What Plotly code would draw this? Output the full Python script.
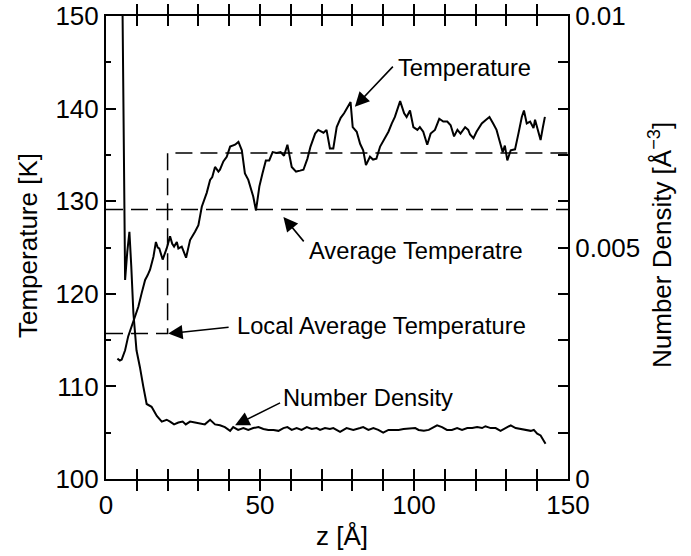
import plotly.graph_objects as go

# Temperature profile (z [Å], T [K])
temp_z = [3.7, 4.5, 5.1, 6.2, 7.2, 8.3, 9.4, 10.5, 11.6, 12.7, 13.5, 14.3, 15.4, 16.2, 16.8, 17.3,
          18.4, 19.7, 20.8, 21.5, 22.1, 23.0, 23.5, 24.6, 26.0, 27.3, 28.9, 30.0, 31.1, 32.7, 33.8,
          34.5, 35.4, 36.5, 37.0, 38.1, 39.2, 40.3, 41.9, 43.0, 44.1, 45.1, 46.2, 47.3, 47.8, 48.7,
          49.8, 50.8, 51.9, 53.0, 54.1, 55.4, 56.7, 57.8, 58.9, 60.3, 61.7, 63.0, 64.1, 65.4, 66.4,
          67.9, 68.9, 70.6, 71.6, 72.7, 73.8, 74.9, 76.2, 77.3, 78.7, 79.4, 80.1, 81.4, 82.5, 83.5,
          84.4, 85.7, 86.7, 87.8, 89.0, 90.3, 91.7, 92.8, 93.8, 95.5, 96.8, 97.6, 98.7, 99.8, 101.1,
          101.9, 103.0, 104.3, 105.4, 106.8, 108.2, 109.5, 110.8, 111.9, 113.0, 114.1, 115.1, 116.6,
          117.6, 118.2, 119.3, 120.3, 122.0, 123.4, 124.5, 125.7, 126.8, 127.7, 128.8, 129.5, 130.3,
          131.4, 132.8, 133.9, 135.0, 135.7, 136.6, 137.7, 138.8, 139.3, 140.0, 141.1, 141.8, 142.5]
temp_T = [113.0, 112.8, 112.9, 113.9, 115.4, 116.4, 117.5, 118.6, 120.1, 121.5, 122.0, 122.6, 124.0,
          125.6, 125.0, 124.9, 123.7, 124.9, 126.2, 125.4, 125.1, 125.6, 124.9, 125.1, 123.9, 125.8,
          126.7, 127.4, 129.4, 130.9, 132.3, 132.6, 133.7, 133.2, 133.4, 134.3, 134.8, 135.9, 136.1,
          136.4, 135.5, 133.0, 132.3, 130.9, 130.5, 129.0, 131.6, 133.0, 134.4, 134.4, 135.3, 135.2,
          135.3, 134.9, 136.1, 133.7, 133.2, 133.3, 133.4, 134.6, 135.9, 137.3, 137.7, 137.4, 137.7,
          135.7, 135.7, 138.0, 139.0, 139.5, 140.4, 140.7, 138.0, 137.5, 136.2, 135.5, 133.9, 134.8,
          134.5, 134.6, 135.9, 136.6, 137.5, 138.4, 139.1, 140.8, 139.5, 139.1, 139.8, 138.0, 137.7,
          138.0, 137.5, 136.1, 137.3, 137.7, 138.9, 138.6, 138.6, 138.2, 137.0, 137.7, 137.3, 138.0,
          137.7, 137.2, 136.8, 137.5, 138.4, 138.8, 139.1, 138.4, 137.7, 136.6, 135.3, 136.0, 134.4,
          135.5, 135.6, 137.3, 139.1, 139.8, 138.4, 138.6, 137.9, 138.8, 137.9, 136.6, 137.9, 139.1]

# Number density profile (z [Å], n [Å^-3])
dens_z = [5.1, 6.2, 6.9, 7.6, 8.2, 8.9, 9.9, 10.5, 11.0, 12.1, 13.2, 14.8, 16.5, 18.1, 19.7, 20.8,
          22.1, 23.5, 24.9, 25.9, 27.3, 28.9, 30.5, 32.1, 33.8, 35.4, 37.0, 38.6, 40.3, 41.3, 42.9,
          44.6, 46.2, 47.8, 49.5, 51.1, 52.7, 54.4, 56.0, 57.6, 58.9, 60.3, 61.9, 63.5, 65.2, 66.8,
          68.4, 69.5, 71.1, 72.7, 73.8, 75.3, 76.0, 78.1, 80.3, 82.5, 83.5, 85.2, 86.8, 88.4, 90.0,
          91.7, 93.4, 95.0, 96.6, 98.7, 100.4, 101.5, 103.2, 104.8, 106.4, 107.5, 109.1, 110.7,
          112.3, 114.0, 115.6, 117.3, 118.9, 120.5, 122.1, 123.2, 124.9, 126.5, 128.1, 129.7, 131.4,
          133.0, 134.6, 136.2, 137.9, 138.9, 140.0, 141.1, 142.2, 142.7]
dens_n = [0.0120, 0.0043, 0.0049, 0.00534, 0.0046, 0.00358, 0.00278, 0.0026, 0.00242, 0.0020,
          0.00162, 0.00156, 0.00136, 0.00124, 0.00128, 0.00124, 0.00118, 0.00122, 0.00124, 0.00118,
          0.00124, 0.00122, 0.0012, 0.00118, 0.00128, 0.00118, 0.00116, 0.00112, 0.00104, 0.00112,
          0.00106, 0.0011, 0.00106, 0.0011, 0.00112, 0.00108, 0.00106, 0.00106, 0.00104, 0.0011,
          0.00112, 0.00106, 0.0011, 0.00106, 0.00112, 0.00108, 0.0011, 0.00106, 0.0011, 0.00108,
          0.0011, 0.00104, 0.00102, 0.0011, 0.00106, 0.0011, 0.00112, 0.00106, 0.0011, 0.00106,
          0.0010, 0.00106, 0.00106, 0.00106, 0.00108, 0.0011, 0.0011, 0.00106, 0.00104, 0.00106,
          0.00112, 0.00116, 0.00112, 0.00106, 0.00106, 0.0011, 0.00106, 0.0011, 0.0011, 0.00112,
          0.0011, 0.00114, 0.0011, 0.0011, 0.00104, 0.0011, 0.00116, 0.0011, 0.00108, 0.00106,
          0.00104, 0.00106, 0.00098, 0.00094, 0.00082, 0.00076]

avg_T = 129.1
local_split_z = 20.0
local_T_low = 115.7
local_T_high = 135.2

x_ticks = list(range(0, 151, 10))
x_ticktext = [str(v) if v % 50 == 0 else "" for v in x_ticks]
y2_ticks = [i / 1000 for i in range(0, 11)]
y2_ticktext = ["0" if i == 0 else ("0.005" if i == 5 else ("0.01" if i == 10 else "")) for i in range(0, 11)]

FONT = "Liberation Sans, Arial, sans-serif"

fig = go.Figure()
fig.add_trace(go.Scatter(x=temp_z, y=temp_T, mode="lines", line=dict(color="black", width=2), showlegend=False))
fig.add_trace(go.Scatter(x=[0, 150], y=[avg_T, avg_T], mode="lines",
                         line=dict(color="black", width=1.5, dash="17px,8px"), showlegend=False))
fig.add_trace(go.Scatter(x=[0, local_split_z, local_split_z, 150],
                         y=[local_T_low, local_T_low, local_T_high, local_T_high], mode="lines",
                         line=dict(color="black", width=1.5, dash="17px,8px"), showlegend=False))
fig.add_trace(go.Scatter(x=dens_z, y=dens_n, mode="lines", yaxis="y2",
                         line=dict(color="black", width=2), showlegend=False))
# placeholder trace so the top (mirror) axis is drawn
fig.add_trace(go.Scatter(x=[None], y=[None], xaxis="x2", yaxis="y", mode="lines",
                         showlegend=False, hoverinfo="skip"))

ann = []
# labels
for txt, px, py in [("Temperature", 396, 68), ("Average Temperatre", 307, 251),
                    ("Local Average Temperature", 235, 326), ("Number Density", 281, 398)]:
    ann.append(dict(text=txt, xref="paper", yref="paper", x=(px - 106) / 462, y=(479 - py) / 463,
                    xanchor="left", yanchor="middle", showarrow=False,
                    font=dict(family=FONT, size=23.7, color="black")))
# arrows (tip, tail) in data coords
for (tx, ty), (ax, ay) in [((80.8, 140.2), (93.6, 144.7)), ((57.6, 128.3), (64.6, 125.5)),
                           ((20.2, 115.7), (40.3, 116.4)), ((41.9, 105.8), (57.0, 108.3))]:
    ann.append(dict(text="", x=tx, y=ty, xref="x", yref="y", ax=ax, ay=ay, axref="x", ayref="y",
                    showarrow=True, arrowhead=2, arrowsize=1.8, arrowwidth=1.6, arrowcolor="black",
                    standoff=0, startstandoff=0))
# axis titles
ann.append(dict(text="Temperature [K]", xref="paper", yref="paper", x=(28 - 106) / 462, y=(479 - 246) / 463,
                textangle=-90, showarrow=False, xanchor="center", yanchor="middle",
                font=dict(family=FONT, size=26, color="black")))
ann.append(dict(text="z [Å]", xref="paper", yref="paper", x=(342 - 106) / 462, y=(479 - 536) / 463,
                showarrow=False, xanchor="center", yanchor="middle",
                font=dict(family=FONT, size=26, color="black")))
ann.append(dict(text="Number Density [Å<sup>−3</sup>]", xref="paper", yref="paper", x=(660 - 106) / 462,
                y=(479 - 245) / 463, textangle=-90, showarrow=False, xanchor="center", yanchor="middle",
                font=dict(family=FONT, size=26, color="black")))

fig.update_layout(
    width=691, height=556,
    margin=dict(l=106, r=123, t=16, b=77, autoexpand=False),
    paper_bgcolor="white", plot_bgcolor="white",
    font=dict(family=FONT, size=26, color="black"),
    annotations=ann,
    xaxis=dict(range=[0, 150], tickvals=x_ticks, ticktext=x_ticktext, ticks="inside", ticklen=10,
               tickwidth=2, tickcolor="black", showline=True, linewidth=2, linecolor="black",
               mirror="allticks", showgrid=False, zeroline=False, ticklabelstandoff=2,
               automargin=False, ticklabeloverflow="allow", tickfont=dict(family=FONT, size=26)),
    xaxis2=dict(range=[0, 150], overlaying="x", side="top", anchor="y", tickvals=x_ticks,
                showticklabels=False, ticks="inside", ticklen=10, tickwidth=2, tickcolor="black",
                showline=True, linewidth=2, linecolor="black", showgrid=False, zeroline=False,
                automargin=False),
    yaxis=dict(range=[100, 150], tickvals=[100, 110, 120, 130, 140, 150], ticks="inside", ticklen=10,
               tickwidth=2, tickcolor="black", showline=True, linewidth=2, linecolor="black",
               showgrid=False, zeroline=False, automargin=False, ticklabeloverflow="allow",
               tickfont=dict(family=FONT, size=26),
               minor=dict(ticks="inside", ticklen=5, tickwidth=2, tickcolor="black", dtick=5,
                          showgrid=False)),
    yaxis2=dict(range=[0, 0.01], overlaying="y", side="right", tickvals=y2_ticks, ticktext=y2_ticktext,
                ticks="inside", ticklen=10, tickwidth=2, tickcolor="black", showline=True, linewidth=2,
                linecolor="black", showgrid=False, zeroline=False, automargin=False,
                ticklabeloverflow="allow", tickfont=dict(family=FONT, size=26)),
)

# remove the default 8px page margin so the figure sits at the window's top-left corner
fig.write_html("out.html", config={"displayModeBar": False},
               post_script="document.body.style.margin='0';document.body.style.overflow='hidden';")
